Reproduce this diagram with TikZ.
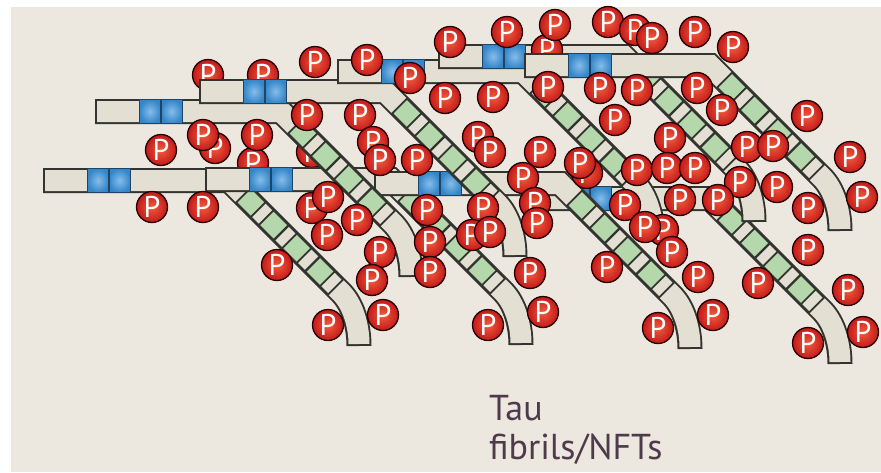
\documentclass[tikz,border=0pt]{standalone}
\usepackage{fontspec}
\setmainfont{PT Sans}
\definecolor{bgc}{HTML}{ECE8DF}
\definecolor{barc}{HTML}{E3DFD2}
\definecolor{edgec}{HTML}{33332F}
\definecolor{grc}{HTML}{B4D7AC}
\definecolor{bluedk}{HTML}{1E4466}
\definecolor{bluemd}{HTML}{3486C8}
\definecolor{bluelt}{HTML}{86BDEB}
\definecolor{pdark}{HTML}{C21A1A}
\definecolor{plight}{HTML}{F25A3A}
\definecolor{labc}{HTML}{4E3A4A}
\begin{document}
\begin{tikzpicture}[
  x=1pt, y=-1pt,
  bandout/.style={draw=edgec, line width=25pt, line cap=butt, line join=miter},
  bandin/.style={draw=barc, line width=21pt, line cap=butt, line join=miter,
    shorten <=2pt, shorten >=2pt},
  gsq/.style={sloped, rectangle, minimum width=21pt, minimum height=21pt,
    inner sep=0pt, draw=edgec, line width=1.7pt, fill=grc},
  msq/.style={sloped, rectangle, minimum width=11.6pt, minimum height=21pt,
    inner sep=0pt, draw=edgec, line width=1.7pt, fill=barc},
  bsq/.style={rectangle, minimum width=21.5pt, minimum height=24pt, inner sep=0pt,
    draw=bluedk, line width=1.5pt, shade, shading=radial,
    inner color=bluelt, outer color=bluemd},
  phos/.style={circle, minimum size=31pt, inner sep=0pt, draw=black!85!red,
    line width=1.3pt, shade, shading=radial, inner color=plight, outer color=pdark,
    text=white, font=\fontsize{30}{30}\selectfont},
  lbl/.style={anchor=base west, inner sep=0pt, text=labc,
    font=\fontsize{36}{36}\selectfont},
  tau/.pic={
    \draw[bandout] (0,12.5) -- (186,12.5) -- (298,124.5)
      .. controls (310,136.5) and (316,158) .. (316,178);
    \draw[bandin] (0,12.5) -- (186,12.5) -- (298,124.5)
      .. controls (310,136.5) and (316,158) .. (316,178);
    \path (186,12.5) -- (298,124.5)
      node[gsq,pos=.196] {} node[msq,pos=.297] {}
      node[gsq,pos=.398] {} node[msq,pos=.505] {}
      node[gsq,pos=.606] {} node[msq,pos=.707] {}
      node[gsq,pos=.814] {} node[msq,pos=.915] {};
    \node[bsq] at (55,12.5) {};
    \node[bsq] at (76.5,12.5) {};
  }
]
\useasboundingbox (0,0) rectangle (881,472);
\fill[white] (0,0) rectangle (881,472);
\fill[bgc] (11,7) rectangle (881,472);

% phosphates behind the chains
\foreach \px/\py [count=\n] in {208/75, 263/75, 253/163, 312/152}
  \node[phos] (pb\n) at (\px,\py) {P};

% tau chains, lower row first
\pic (m1) at (43,168) {tau};
\pic (m4) at (205,167) {tau};
\pic (m8) at (524,186) {tau};
\pic (m7) at (374,171) {tau};
\pic (m2) at (95,99) {tau};
\pic (m3) at (199,79) {tau};
\pic (m9) at (337,59) {tau};
\pic (m5) at (438,44) {tau};
\node[phos] (pm) at (547,50) {P};
\pic (m6) at (524,53) {tau};

% phosphates in front
\foreach \px/\py [count=\n] in {
  315/62, 367/60, 410/78, 450/42, 507/32, 555/25, 608/22, 635/30, 652/38,
  695/32, 733/47, 445/98, 493/97, 548/87, 600/88, 637/90, 697/88, 722/110,
  615/120, 807/116, 670/138, 307/115, 360/115, 373/142, 380/160, 417/160,
  215/148, 203/135, 257/135, 161/150, 152/207, 203/207,
  478/137, 490/152, 540/152, 523/178, 587/173, 580/163, 637/170, 667/168,
  695/168, 747/147, 773/146, 850/157, 740/182, 777/187, 680/200, 718/200,
  808/208, 862/197, 312/208, 328/197, 357/220, 327/235, 380/252, 372/280,
  277/265, 328/325, 383/315, 427/210, 430/242, 430/272, 483/208, 535/203,
  537/223, 472/235, 490/232, 530/273, 625/205, 663/230, 645/227, 672/252,
  607/267, 698/277, 808/250, 758/283, 848/290, 488/325, 543/312, 658/328,
  713/315, 808/343, 863/332}
  \node[phos] (p\n) at (\px,\py) {P};

\node[lbl] (tau) at (489,420) {Tau};
\node[lbl] (fib) at (489,459) {fibrils/NFTs};
\end{tikzpicture}
\end{document}
